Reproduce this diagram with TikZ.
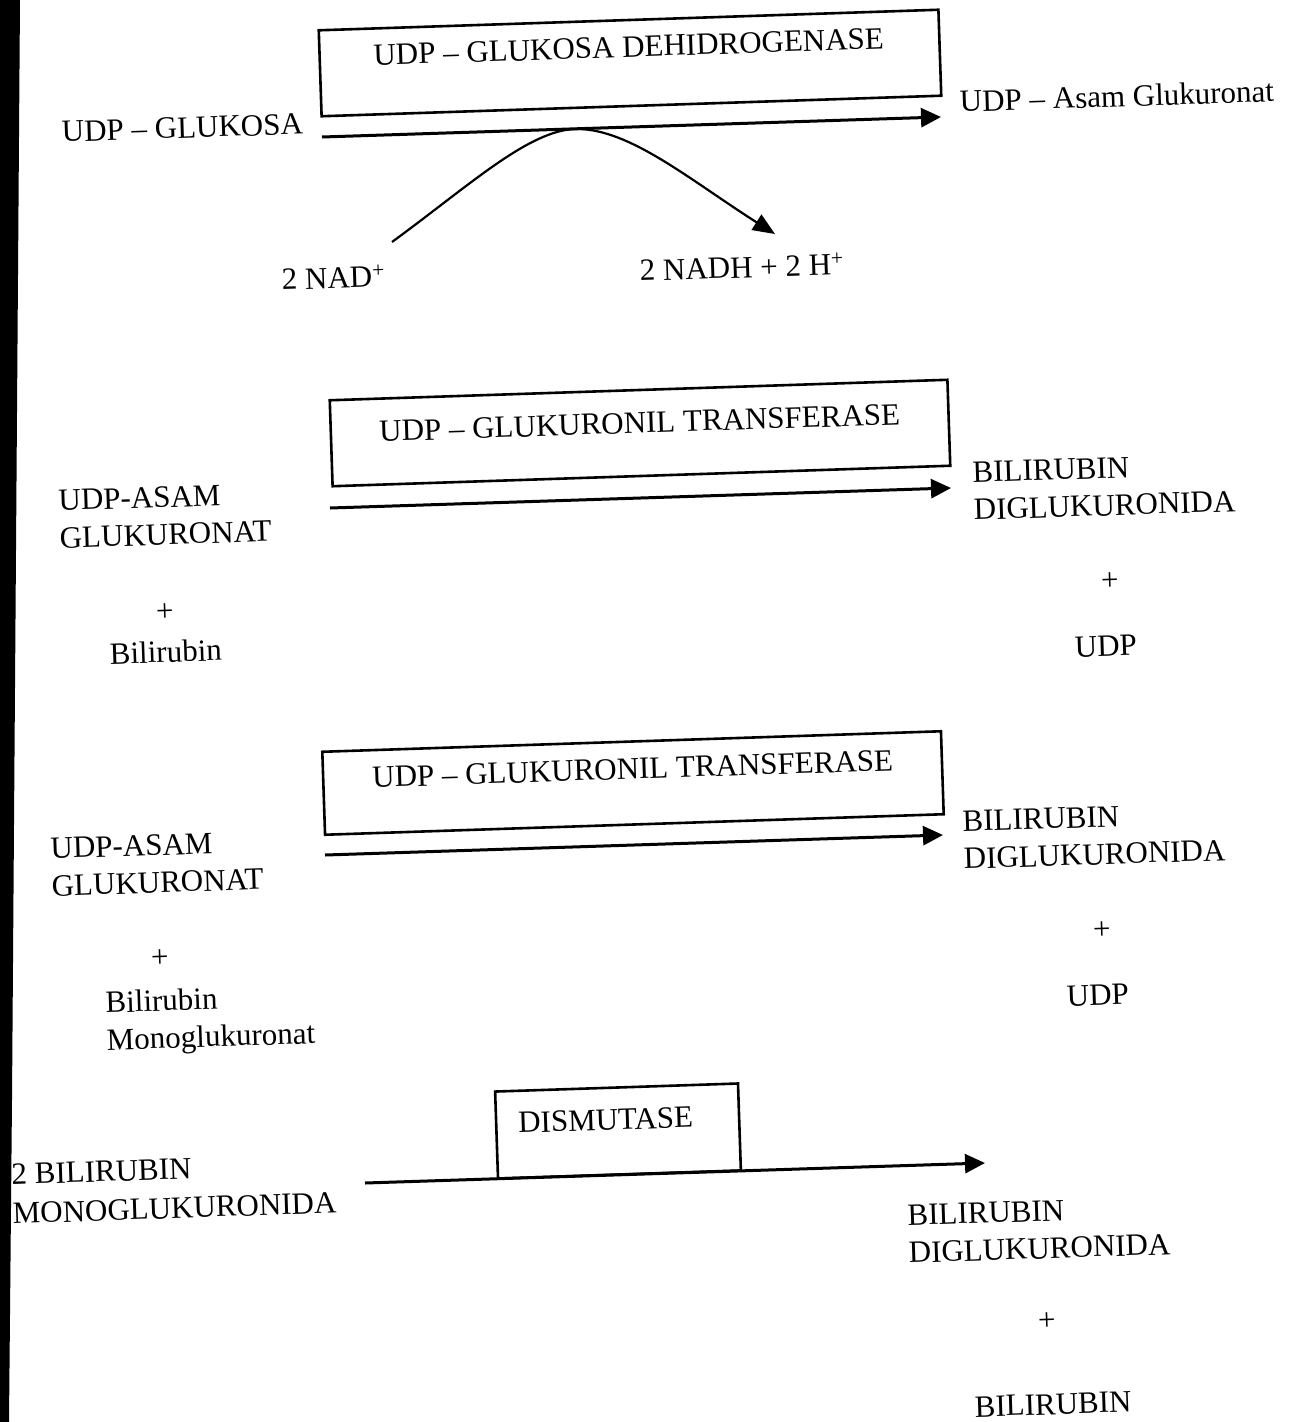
\documentclass[tikz,border=0pt]{standalone}
\usepackage{fontspec}
\setmainfont{Liberation Serif}
\usetikzlibrary{arrows.meta}
\begin{document}
\begin{tikzpicture}[x=1pt,y=-1pt,
  lbl/.style={font=\fontsize{31}{36}\selectfont, inner sep=0pt, rotate=1.9},
  lblL/.style={lbl, anchor=base west},
  lblM/.style={lbl, anchor=north west, align=left},
  lblC/.style={lbl, anchor=base},
  enzbox/.style={draw, line width=2.6pt, rotate=1.9, inner sep=0pt},
  rxn/.style={line width=3pt, -{Triangle[length=20pt,width=19pt]}},
  side/.style={line width=2.2pt, -{Triangle[length=22pt,width=18pt]}}]
\useasboundingbox (0,0) rectangle (1290,1422);
\fill[white] (0,0) rectangle (1290,1422);
% scan edge
\fill[black] (0,0) -- (20,0) -- (12,1100) -- (9,1422) -- (0,1422) -- cycle;

% ---------- Reaction 1 ----------
\node[enzbox, minimum width=620pt, minimum height=86pt] (box1) at (630,63) {};
\node[lblC] (enz1) at (629,57) {UDP – GLUKOSA DEHIDROGENASE};
\node[lblL] (s1) at (62,142) {UDP – GLUKOSA};
\node[lblL] (p1) at (960,112) {UDP – Asam Glukuronat};
\coordinate (a1s) at (322,137);
\coordinate (a1e) at (941,117);
\draw[rxn] (a1s) -- (a1e);
\node[lblL] (nad) at (282,290) {2 NAD\textsuperscript{+}};
\node[lblL] (nadh) at (640,281) {2 NADH + 2 H\textsuperscript{+}};
\coordinate (c1s) at (392,242);
\coordinate (c1t) at (577,129);
\coordinate (c1e) at (775,234);
\draw[side] (c1s) .. controls (470,185) and (530,129) .. (c1t)
               .. controls (630,129) and (690,180) .. (c1e);

% ---------- Reaction 2 ----------
\node[enzbox, minimum width=618pt, minimum height=86pt] (box2) at (640,433) {};
\node[lblC] (enz2) at (640,433) {UDP – GLUKURONIL TRANSFERASE};
\node[lblM] (s2) at (58,490) {UDP-ASAM\\[1.5pt]GLUKURONAT};
\node[lblC] (plus2a) at (165,621) {+};
\node[lblL] (s2b) at (110,664) {Bilirubin};
\coordinate (a2s) at (330,508);
\coordinate (a2e) at (951,488);
\draw[rxn] (a2s) -- (a2e);
\node[lblM] (p2) at (972,462) {BILIRUBIN\\[1.5pt]DIGLUKURONIDA};
\node[lblC] (plus2b) at (1110,590) {+};
\node[lblL] (p2b) at (1075,657) {UDP};

% ---------- Reaction 3 ----------
\node[enzbox, minimum width=619pt, minimum height=83pt] (box3) at (633,783) {};
\node[lblC] (enz3) at (633,779) {UDP – GLUKURONIL TRANSFERASE};
\node[lblM] (s3) at (50,838) {UDP-ASAM\\[1.5pt]GLUKURONAT};
\node[lblC] (plus3a) at (160,967) {+};
\node[lblM] (s3b) at (105,991) {Bilirubin\\[1.5pt]Monoglukuronat};
\coordinate (a3s) at (325,855);
\coordinate (a3e) at (943,835);
\draw[rxn] (a3s) -- (a3e);
\node[lblM] (p3) at (962,811) {BILIRUBIN\\[1.5pt]DIGLUKURONIDA};
\node[lblC] (plus3b) at (1102,939) {+};
\node[lblL] (p3b) at (1067,1006) {UDP};

% ---------- Reaction 4 ----------
\node[enzbox, minimum width=243pt, minimum height=87pt] (box4) at (618,1131) {};
\node[lblC] (enz4) at (606,1130) {DISMUTASE};
\node[lblM] (s4) at (11,1164) {2 BILIRUBIN\\[3pt]MONOGLUKURONIDA};
\coordinate (a4s) at (365,1183);
\coordinate (a4e) at (985,1163);
\draw[rxn] (a4s) -- (a4e);
\node[lblM] (p4) at (907,1205) {BILIRUBIN\\[1.5pt]DIGLUKURONIDA};
\node[lblC] (plus4) at (1047,1330) {+};
\node[lblL] (p4b) at (975,1417) {BILIRUBIN};
\end{tikzpicture}
\end{document}
